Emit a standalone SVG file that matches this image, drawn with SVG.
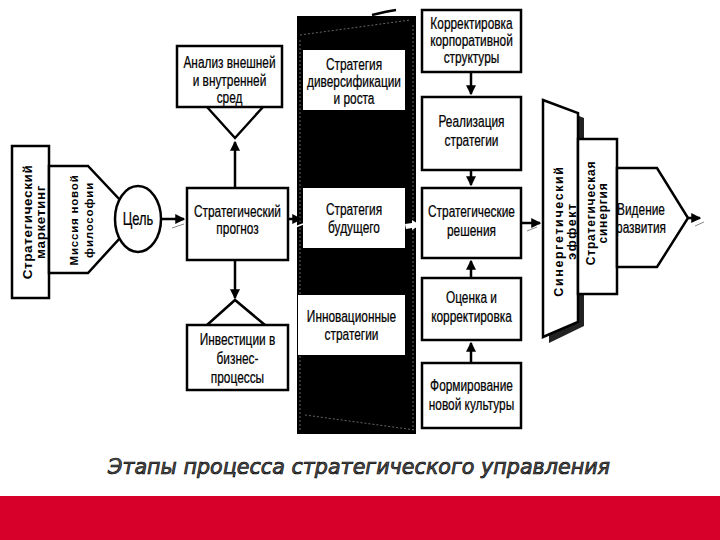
<svg xmlns="http://www.w3.org/2000/svg" width="720" height="540" viewBox="0 0 720 540">
<defs>
<style>
.box{fill:#fff;stroke:#000;stroke-width:2.5}
.t{font-family:"Liberation Sans",Arial,sans-serif;font-size:16.5px;fill:#000;stroke:#000;stroke-width:0.25;text-anchor:middle;transform-box:fill-box;transform-origin:center;transform:scaleX(0.72)}
.tb{font-family:"Liberation Sans",Arial,sans-serif;font-weight:bold;font-size:12px;fill:#000;text-anchor:middle;letter-spacing:0.8px}
.ln{stroke:#000;stroke-width:2.5;fill:none}
</style>
<marker id="ah" markerWidth="4" markerHeight="4" refX="3.5" refY="2" orient="auto" markerUnits="strokeWidth">
<path d="M0,0 L4,2 L0,4 Z" fill="#000"/>
</marker>
</defs>
<rect width="720" height="540" fill="#fff"/>

<g id="black-column">
<rect x="297" y="16" width="119" height="418" fill="#000"/>
<path d="M372,15 C380,13 388,11 396,10" stroke="#000" stroke-width="2.5" fill="none"/>
<g stroke="#666" stroke-width="1" stroke-dasharray="2,2">
<line x1="300" y1="35" x2="410" y2="20"/>
<line x1="305" y1="415" x2="415" y2="430"/>
<line x1="300" y1="40" x2="300" y2="430"/>
<line x1="413" y1="25" x2="413" y2="430"/>
</g>
</g>

<g id="connectors">
<line class="ln" x1="162" y1="219" x2="184" y2="219" marker-end="url(#ah)"/>
<line x1="172" y1="228" x2="184" y2="224" stroke="#888" stroke-width="1"/>
<line class="ln" x1="235" y1="188" x2="235" y2="142" marker-end="url(#ah)"/>
<line class="ln" x1="235" y1="260" x2="235" y2="298" marker-end="url(#ah)"/>
<line class="ln" x1="288" y1="219" x2="301" y2="219" marker-end="url(#ah)"/>
<line x1="293" y1="228" x2="303" y2="224" stroke="#fff" stroke-width="1.5"/>
<polygon points="405,224 412,223 412,220 420,225 412,230 412,228 406,229" fill="#fff"/>
<line class="ln" x1="471" y1="73" x2="471" y2="94" marker-end="url(#ah)"/>
<line class="ln" x1="471" y1="170" x2="471" y2="185" marker-end="url(#ah)"/>
<line class="ln" x1="471" y1="278" x2="471" y2="261" marker-end="url(#ah)"/>
<line class="ln" x1="471" y1="363" x2="471" y2="343" marker-end="url(#ah)"/>
<line class="ln" x1="520" y1="223" x2="540" y2="223" marker-end="url(#ah)"/>
<line x1="527" y1="231" x2="537" y2="227" stroke="#888" stroke-width="1"/>
<line class="ln" x1="688" y1="218" x2="700" y2="218" marker-end="url(#ah)"/>
<line x1="695" y1="226" x2="704" y2="222" stroke="#888" stroke-width="1"/>
</g>

<g id="strategic-marketing">
<rect class="box" x="12" y="146" width="37" height="152"/>
<text class="tb" style="font-size:13.5px;letter-spacing:0.6px" transform="translate(30,222) rotate(-90)"><tspan x="0" y="2">Стратегический</tspan><tspan x="0" y="15">маркетинг</tspan></text>
</g>

<g id="mission">
<polygon class="box" points="49,166 88,166 120,200 120,238 88,273 49,273"/>
<text class="tb" style="font-size:11.5px" transform="translate(78,220) rotate(-90)"><tspan x="0" y="0">Миссия новой</tspan><tspan x="0" y="15">философии</tspan></text>
</g>

<g id="goal">
<ellipse class="box" cx="138" cy="219" rx="23" ry="33"/>
<text class="t" style="font-size:18px" x="138" y="225">Цель</text>
</g>

<g id="analysis">
<rect class="box" x="177" y="46" width="105" height="61"/>
<polyline class="ln" points="207,107 235,138 263,107"/>
<text class="t" x="229.5" y="68">Анализ внешней</text>
<text class="t" x="229.5" y="86">и внутренней</text>
<text class="t" x="229.5" y="103">сред</text>
</g>

<g id="forecast">
<rect class="box" x="187" y="188" width="101" height="72"/>
<text class="t" x="237.5" y="217">Стратегический</text>
<text class="t" x="237.5" y="234">прогноз</text>
</g>

<g id="investment">
<polyline class="ln" points="207,325 235,300 265,325"/>
<rect class="box" x="187" y="325" width="101" height="65"/>
<text class="t" x="237.5" y="345">Инвестиции в</text>
<text class="t" x="237.5" y="364">бизнес-</text>
<text class="t" x="237.5" y="383">процессы</text>
</g>

<g id="diversification">
<rect x="303" y="50" width="102" height="60" fill="#fff"/>
<text class="t" x="354" y="70">Стратегия</text>
<text class="t" x="354" y="87">диверсификации</text>
<text class="t" x="354" y="104">и роста</text>
</g>

<g id="future">
<rect x="303" y="188" width="102" height="60" fill="#fff"/>
<text class="t" x="354" y="215">Стратегия</text>
<text class="t" x="354" y="233">будущего</text>
</g>

<g id="innovation">
<rect x="298" y="295" width="107" height="60" fill="#fff"/>
<text class="t" x="351.5" y="322">Инновационные</text>
<text class="t" x="351.5" y="340">стратегии</text>
</g>

<g id="corporate">
<rect class="box" x="422" y="10" width="99" height="62"/>
<text class="t" x="471.5" y="29">Корректировка</text>
<text class="t" x="471.5" y="46">корпоративной</text>
<text class="t" x="471.5" y="63">структуры</text>
</g>

<g id="realization">
<rect class="box" x="422" y="97" width="99" height="73"/>
<text class="t" x="471.5" y="127">Реализация</text>
<text class="t" x="471.5" y="146">стратегии</text>
</g>

<g id="decisions">
<rect class="box" x="422" y="188" width="99" height="70"/>
<text class="t" x="471.5" y="217">Стратегические</text>
<text class="t" x="471.5" y="236">решения</text>
</g>

<g id="evaluation">
<rect class="box" x="422" y="278" width="99" height="62"/>
<text class="t" x="471.5" y="303">Оценка и</text>
<text class="t" x="471.5" y="322">корректировка</text>
</g>

<g id="culture">
<rect class="box" x="422" y="363" width="99" height="65"/>
<text class="t" x="471.5" y="391">Формирование</text>
<text class="t" x="471.5" y="410">новой культуры</text>
</g>

<g id="synergy-effect">
<polygon points="549,104 584,118 584,326 549,343" fill="#222"/>
<polygon class="box" points="543,100 578,113 578,322 543,337"/>
<text class="tb" style="font-size:12.5px;letter-spacing:1.6px" transform="translate(563,231) rotate(-90)"><tspan x="0" y="0">Синергетический</tspan><tspan x="0" y="13">эффект</tspan></text>
</g>

<g id="strategic-synergy">
<rect class="box" x="578" y="139" width="39" height="155"/>
<text class="tb" transform="translate(597,213) rotate(-90)"><tspan x="0" y="-2">Стратегическая</tspan><tspan x="0" y="10">синергия</tspan></text>
</g>

<g id="vision">
<polygon class="box" points="617,168 657,168 688,218 657,267 617,267"/>
<text class="t" x="641" y="215">Видение</text>
<text class="t" x="641" y="233">развития</text>
</g>

<g id="title">
<text x="108" y="474" textLength="502" lengthAdjust="spacingAndGlyphs" style="font-family:'DejaVu Sans',Verdana,sans-serif;font-style:italic;font-size:21px;fill:#555;stroke:#000;stroke-width:0.7">Этапы процесса стратегического управления</text>
</g>

<rect x="0" y="496" width="720" height="44" fill="#d7002a"/>
</svg>
